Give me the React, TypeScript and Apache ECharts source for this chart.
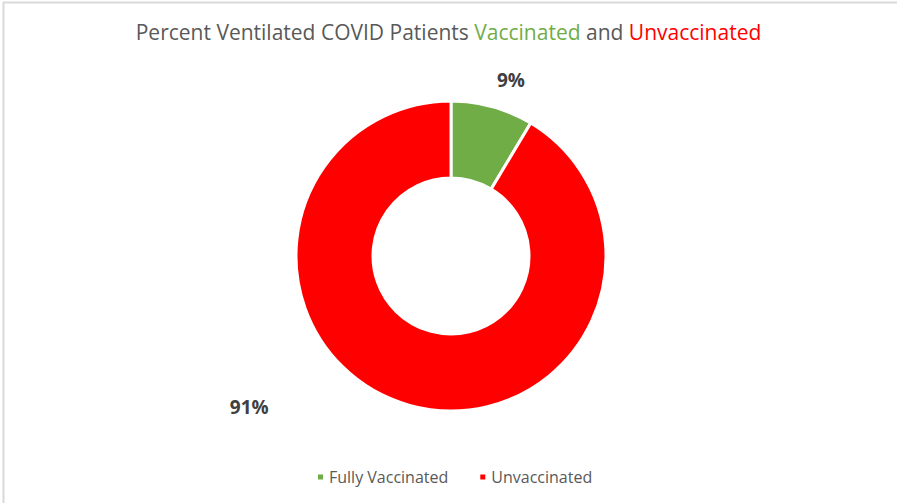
import React, { useEffect, useRef } from "react";
import * as echarts from "echarts";

const categories = ["Fully Vaccinated", "Unvaccinated"];
const values = [8.6, 91.4];
const colors = ["#70AD47", "#FF0000"];
const titleParts = ["Percent Ventilated COVID Patients ", "Vaccinated", " and ", "Unvaccinated"];

const FONT = "'Open Sans', 'Noto Sans', sans-serif";
const CX = 451;
const CY = 256;
// label polar placement (angle clockwise from top in degrees, distance from centre)
const labelPolar = [
  { angle: 18.8, dist: 186 },
  { angle: 233.2, dist: 252 },
];

export default function App() {
  const ref = useRef<HTMLDivElement>(null);
  useEffect(() => {
    document.body.style.margin = "0";
    const chart = echarts.init(ref.current!, null, { renderer: "svg" });
    const ts = { fontSize: 21, fontFamily: FONT, fontWeight: "normal" as const };
    chart.setOption({
      animation: false,
      backgroundColor: "#ffffff",
      title: {
        left: "center",
        top: 16,
        text:
          `{a|${titleParts[0]}}{g|${titleParts[1]}}{a|${titleParts[2]}}{r|${titleParts[3]}}`,
        textStyle: {
          fontWeight: "normal",
          rich: {
            a: { color: "#595959", ...ts },
            g: { color: colors[0], ...ts },
            r: { color: colors[1], ...ts },
          },
        },
      },
      legend: {
        bottom: 13,
        left: 311,
        icon: "rect",
        itemWidth: 7,
        itemHeight: 7,
        itemGap: 30,
        textStyle: { color: "#595959", fontSize: 16, fontFamily: FONT },
        data: categories,
      },
      graphic: [
        { type: "line", shape: { x1: 3, y1: 2.5, x2: 897, y2: 2.5 }, style: { stroke: "#d9d9d9", lineWidth: 2 } },
        { type: "line", shape: { x1: 3.5, y1: 2, x2: 3.5, y2: 503 }, style: { stroke: "#d9d9d9", lineWidth: 2 } },
      ],
      series: [
        {
          type: "pie",
          center: [CX, CY],
          radius: [78, 155],
          startAngle: 90,
          clockwise: true,
          itemStyle: { borderColor: "#ffffff", borderWidth: 3 },
          label: {
            show: true,
            position: "outside",
            formatter: (p: any) => `${Math.round(p.percent)}%`,
            color: "#404040",
            fontSize: 19,
            fontWeight: "bold",
            fontFamily: FONT,
          },
          labelLine: { show: false },
          labelLayout: (params: any) => {
            const lp = labelPolar[params.dataIndex];
            const a = (lp.angle * Math.PI) / 180;
            return {
              x: CX + lp.dist * Math.sin(a),
              y: CY - lp.dist * Math.cos(a),
              align: "center",
              verticalAlign: "middle",
            };
          },
          emphasis: { disabled: true },
          data: categories.map((c, i) => ({ name: c, value: values[i], itemStyle: { color: colors[i] } })),
        },
      ],
    });
    return () => chart.dispose();
  }, []);
  return <div ref={ref} style={{ width: 897, height: 503 }} />;
}
